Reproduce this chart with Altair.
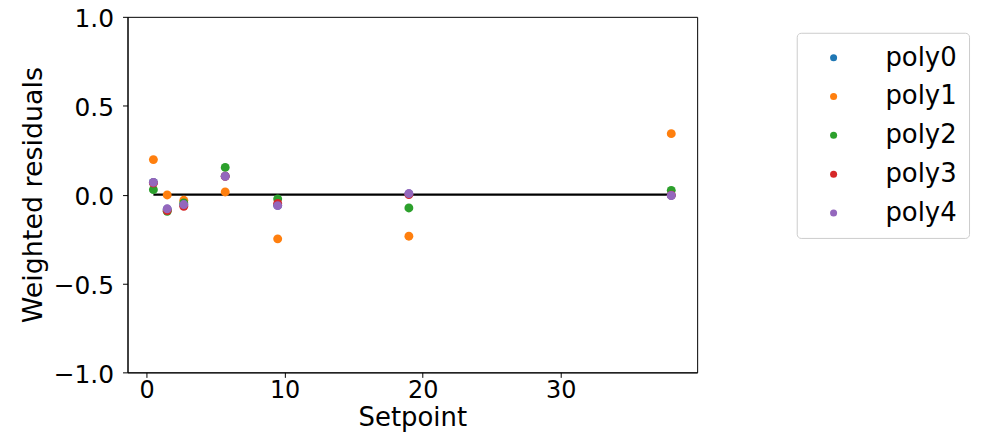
import altair as alt
import pandas as pd

setpoints = [0.5, 1.5, 2.7, 5.7, 9.5, 19, 38]
series_names = ["poly0", "poly1", "poly2", "poly3", "poly4"]
poly0 = [0.068, -0.082, -0.058, 0.104, -0.060, 0.004, -0.004]
poly1 = [0.197, -0.002, -0.032, 0.015, -0.249, -0.234, 0.343]
poly2 = [0.028, -0.094, -0.047, 0.153, -0.024, -0.075, 0.024]
poly3 = [0.065, -0.090, -0.066, 0.103, -0.050, 0.000, -0.003]
poly4 = [0.069, -0.080, -0.056, 0.103, -0.062, 0.006, -0.005]
colors = ["#1f77b4", "#ff7f0e", "#2ca02c", "#d62728", "#9467bd"]
x_ticks = [0, 10, 20, 30]
y_ticks = [-1.0, -0.5, 0.0, 0.5, 1.0]

rows = []
for name, vals in zip(series_names, [poly0, poly1, poly2, poly3, poly4]):
    for sp, v in zip(setpoints, vals):
        rows.append({"Setpoint": sp, "Residual": v, "Series": name})
df = pd.DataFrame(rows)
line_df = pd.DataFrame({"x0": [min(setpoints)], "x1": [max(setpoints)], "y": [0.0]})

font = "DejaVu Sans"
xscale = alt.Scale(domain=[-1.375, 39.875], nice=False, zero=False)
yscale = alt.Scale(domain=[-1.0, 1.0], nice=False)

points = alt.Chart(df).mark_circle(size=80, opacity=1).encode(
    x=alt.X("Setpoint:Q", scale=xscale,
            axis=alt.Axis(values=x_ticks, title="Setpoint", grid=False, format="d",
                          labelFontSize=24, titleFontSize=26, labelPadding=1, titlePadding=2)),
    y=alt.Y("Residual:Q", scale=yscale,
            axis=alt.Axis(values=y_ticks, title="Weighted residuals", grid=False, format=".1f",
                          labelFontSize=25, titleFontSize=27, labelPadding=9, labelOffset=2,
                          titlePadding=6)),
    color=alt.Color("Series:N", scale=alt.Scale(domain=series_names, range=colors),
                    legend=alt.Legend(title=None, orient="none", legendX=672, legendY=16,
                                      padding=12, symbolOffset=12, labelOffset=39,
                                      rowPadding=13, symbolSize=50, symbolType="circle",
                                      labelFontSize=26, labelFont=font, labelColor="black",
                                      strokeColor="#cccccc", fillColor="white",
                                      cornerRadius=4)),
    order=alt.Order("order:Q"),
).transform_calculate(order="indexof(['poly0','poly1','poly2','poly3','poly4'], datum.Series)")

rule = alt.Chart(line_df).mark_rule(color="black", strokeWidth=2.2).encode(
    x=alt.X("x0:Q", scale=xscale),
    x2="x1:Q",
    y=alt.Y("y:Q", scale=yscale),
)

chart = alt.layer(rule, points).properties(
    width=572, height=357,
    autosize=alt.AutoSizeParams(type="none"),
    padding={"left": 120, "top": 8, "right": 282, "bottom": 60},
).configure_view(stroke="black", strokeWidth=1).configure_axis(
    labelFont=font, titleFont=font,
    labelColor="black", titleColor="black", titleFontWeight="normal",
    domainColor="black", tickColor="black", tickSize=5,
)

chart.save("out.html", embed_options={"renderer": "svg", "actions": False})
